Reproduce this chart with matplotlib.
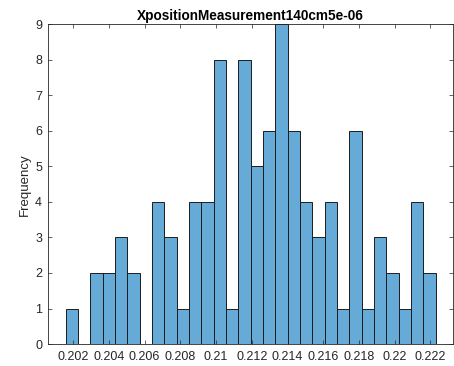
import numpy as np
import matplotlib.pyplot as plt
from matplotlib.ticker import FormatStrFormatter

# histogram counts per bin (30 bins)
counts = [1, 0, 2, 2, 3, 2, 0, 4, 3, 1,
          4, 4, 8, 1, 8, 5, 6, 9, 6, 4,
          3, 4, 1, 6, 1, 3, 2, 1, 4, 2]
bin_start = 0.20157
bin_width = 0.000691
x_ticks = [0.202, 0.204, 0.206, 0.208, 0.21, 0.212, 0.214, 0.216, 0.218, 0.22, 0.222]
y_ticks = list(range(10))
title = "XpositionMeasurement140cm5e-06"

plt.rcParams['font.family'] = ['Liberation Sans', 'DejaVu Sans']

fig = plt.figure(figsize=(4.54, 3.66), dpi=100)
ax = fig.add_axes([0.105, 0.060, 0.8935, 0.8735])

edges = bin_start + bin_width * np.arange(len(counts) + 1)
ax.bar(edges[:-1], counts, width=bin_width, align='edge',
       color='#66aad7', edgecolor='#1c1c1c', linewidth=0.7)

ax.set_xlim(0.20057, 0.22328)
ax.set_ylim(0, 9)
ax.set_xticks(x_ticks)
ax.set_yticks(y_ticks)
ax.xaxis.set_major_formatter(FormatStrFormatter('%g'))

gray = '#262626'
for s in ax.spines.values():
    s.set_color(gray)
    s.set_linewidth(0.6)
ax.tick_params(direction='in', length=3, width=0.5, colors=gray,
               top=True, right=True, labelsize=9, pad=5)
ax.tick_params(axis='y', pad=4)

ax.set_ylabel("Frequency", fontsize=9.5, color=gray, labelpad=3)
ax.set_title(title, fontsize=9.8, fontweight='bold', color='#000000', pad=3)

fig.savefig("out.png", dpi=100)
